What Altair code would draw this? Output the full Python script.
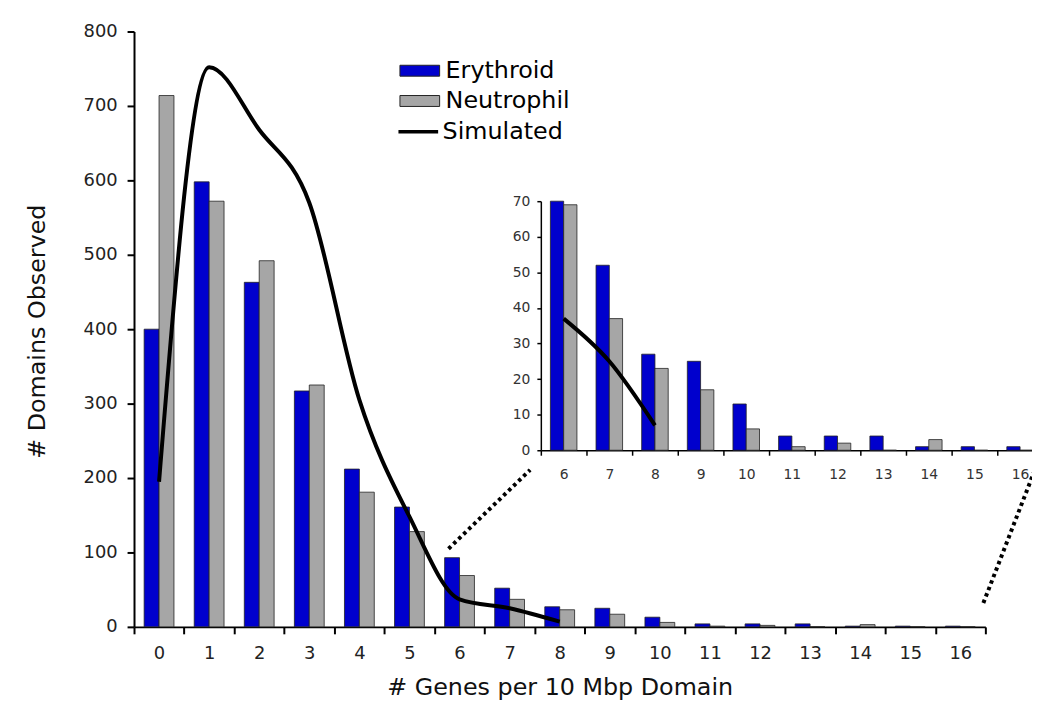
import altair as alt
import pandas as pd

FONT = "DejaVu Sans"
BLUE = "#0000cd"
GRAY = "#a6a6a6"

# ---- data ----
genes = list(range(17))
erythroid = [400, 598, 463, 317, 212, 161, 93, 52, 27, 25, 13, 4, 4, 4, 1, 1, 1]
neutrophil = [714, 572, 492, 325, 181, 128, 69, 37, 23, 17, 6, 1, 2, 0, 3, 0, 0]
sim_genes = list(range(9))
simulated = [195, 752, 668, 570, 305, 148, 37, 25, 7]
inset_genes = list(range(6, 17))
series_names = ["Erythroid", "Neutrophil"]
y_ticks = list(range(0, 801, 100))
inset_y_ticks = list(range(0, 71, 10))

# dotted connectors (main-axis data coordinates: band units, counts)
conn_seg = ["left", "left", "right", "right"]
conn_x = [6.28, 7.91, 16.96, 18.0]
conn_y = [105, 211, 32, 213]

bars = pd.DataFrame({
    "genes": genes * 2,
    "series": ["Erythroid"] * len(genes) + ["Neutrophil"] * len(genes),
    "count": erythroid + neutrophil,
})
inset_bars = bars[bars["genes"] >= 6]
sim = pd.DataFrame({"genes": sim_genes, "count": simulated, "series": ["Simulated"] * len(sim_genes)})
inset_sim = sim[sim["genes"] >= 6]
conn = pd.DataFrame({"seg": conn_seg, "x": conn_x, "y": conn_y})

W, H = 858, 600
INSET_X = [410, 916]
INSET_Y = [422, 171]

fill_scale = alt.Scale(domain=series_names, range=[BLUE, GRAY])
fill_legend = alt.Legend(
    title=None, orient="none", legendX=276, legendY=27.5, padding=0,
    symbolType="M-2,-0.55H2V0.55H-2Z", symbolSize=400,
    symbolStrokeColor="#222", symbolStrokeWidth=1, symbolOpacity=1,
    labelFont=FONT, labelFontSize=24, labelColor="black",
    labelOffset=14, rowPadding=6.5, direction="vertical",
)
stroke_legend = alt.Legend(
    title=None, orient="none", legendX=274.5, legendY=89, padding=0,
    symbolType="M-2,0H2", symbolSize=400, symbolStrokeWidth=3.5,
    labelFont=FONT, labelFontSize=24, labelColor="black", labelOffset=12.5,
)

main_x_scale = alt.Scale(type="band", domain=genes, paddingInner=0, paddingOuter=0)
main_y_scale = alt.Scale(domain=[0, 800], nice=False, zero=True)

main_bars = alt.Chart(bars).mark_bar(stroke="#222", strokeWidth=0.8).encode(
    x=alt.X("genes:O", scale=main_x_scale,
            axis=alt.Axis(orient="bottom", title="# Genes per 10 Mbp Domain",
                          labelAngle=0, tickBand="extent", tickSize=7, tickWidth=2,
                          tickColor="black", domainColor="black", domainWidth=2,
                          labelFont=FONT, labelFontSize=18, labelColor="#222",
                          labelPadding=11, grid=False,
                          titleFont=FONT, titleFontSize=24, titleFontWeight="normal",
                          titleColor="#111", titleY=68, titleBaseline="alphabetic")),
    xOffset=alt.XOffset("series:N", scale=alt.Scale(domain=series_names, paddingInner=0, paddingOuter=0.68)),
    y=alt.Y("count:Q", scale=main_y_scale,
            axis=alt.Axis(orient="left", title="# Domains Observed", values=y_ticks,
                          tickSize=7, tickWidth=2, tickColor="black",
                          domainColor="black", domainWidth=2,
                          labelFont=FONT, labelFontSize=18, labelColor="#222",
                          labelPadding=10, grid=False,
                          titleFont=FONT, titleFontSize=24, titleFontWeight="normal",
                          titleColor="#111", titleAngle=270, titleX=-97, titleY=302,
                          titleBaseline="middle")),
    fill=alt.Fill("series:N", scale=fill_scale, legend=fill_legend),
)

main_line = alt.Chart(sim).mark_line(strokeWidth=4, interpolate="monotone").encode(
    x=alt.X("genes:O", scale=main_x_scale, axis=None),
    y=alt.Y("count:Q", scale=main_y_scale, axis=None),
    stroke=alt.Stroke("series:N", scale=alt.Scale(domain=["Simulated"], range=["black"]),
                      legend=stroke_legend),
)

connectors = alt.Chart(conn).mark_line(color="black", strokeWidth=4, strokeDash=[3.5, 3.5]).encode(
    x=alt.X("x:Q", scale=alt.Scale(domain=[0, 17], nice=False, zero=False), axis=None),
    y=alt.Y("y:Q", scale=main_y_scale, axis=None),
    detail="seg:N",
)

inset_x_scale = alt.Scale(type="band", domain=inset_genes, range=INSET_X, paddingInner=0, paddingOuter=0)
inset_bars_chart = alt.Chart(inset_bars).mark_bar(stroke="#222", strokeWidth=0.8).encode(
    x=alt.X("genes:O", scale=inset_x_scale,
            axis=alt.Axis(orient="bottom", title=None, offset=INSET_Y[0] - H,
                          labelAngle=0, tickBand="extent", tickSize=5, tickWidth=1.5,
                          tickColor="black", domainColor="black", domainWidth=1.5,
                          labelFont=FONT, labelFontSize=14, labelColor="#333",
                          labelPadding=12, grid=False)),
    xOffset=alt.XOffset("series:N", scale=alt.Scale(domain=series_names, paddingInner=0, paddingOuter=0.72)),
    y=alt.Y("count:Q", scale=alt.Scale(domain=[0, 70], range=INSET_Y, nice=False, clamp=True),
            axis=alt.Axis(orient="left", title=None, offset=-INSET_X[0], values=inset_y_ticks,
                          tickSize=4, tickWidth=1.5, tickColor="black",
                          domainColor="black", domainWidth=1.5,
                          labelFont=FONT, labelFontSize=14, labelColor="#333",
                          labelPadding=7, grid=False)),
    fill=alt.Fill("series:N", scale=fill_scale, legend=fill_legend),
)

inset_line = alt.Chart(inset_sim).mark_line(color="black", strokeWidth=4, interpolate="monotone").encode(
    x=alt.X("genes:O", scale=inset_x_scale, axis=None),
    y=alt.Y("count:Q", scale=alt.Scale(domain=[0, 70], range=INSET_Y, nice=False), axis=None),
)

chart = alt.layer(main_bars, main_line, connectors, inset_bars_chart, inset_line).resolve_scale(
    x="independent", y="independent", xOffset="independent"
).properties(
    width=W, height=H,
    padding={"left": 127, "top": 21, "right": 47, "bottom": 72},
    autosize=alt.AutoSizeParams(type="none"),
    background="white",
).configure(font=FONT).configure_view(strokeWidth=0)

chart.save("out.html", embed_options={"renderer": "svg", "actions": False})
